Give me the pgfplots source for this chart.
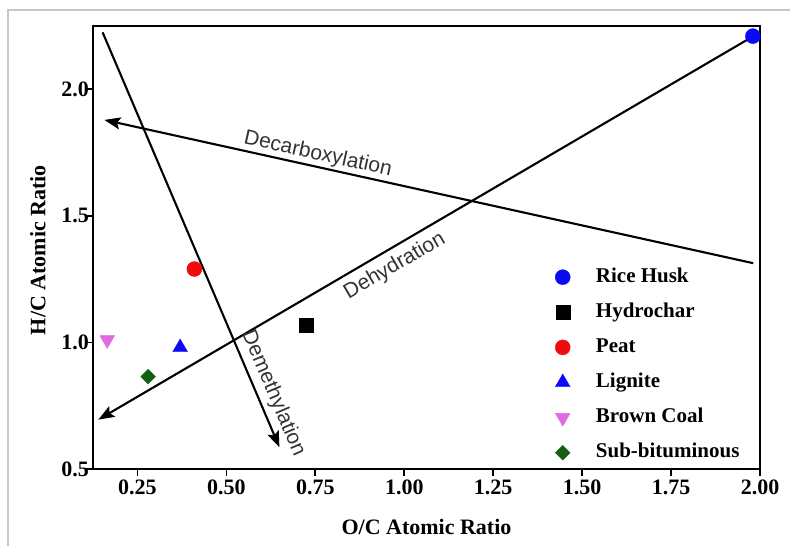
\documentclass[border=0pt]{standalone}
\usepackage{pgfplots}
\pgfplotsset{compat=1.18}
\usetikzlibrary{arrows.meta}
\usepackage{fontspec}
\setmainfont{Liberation Serif}
\newfontfamily\labelsans{Liberation Sans}
\definecolor{rhblue}{RGB}{10,10,245}
\definecolor{peatred}{RGB}{240,12,12}
\definecolor{bcpink}{RGB}{225,105,225}
\definecolor{sbgreen}{RGB}{20,95,20}
\begin{document}
\begin{tikzpicture}
\useasboundingbox (0,0) rectangle (790pt,546pt);
\draw[black!22, line width=1.2pt] (8pt,0pt) -- (8pt,536pt) -- (790pt,536pt);
\begin{axis}[
  at={(93pt,77pt)}, anchor=south west,
  scale only axis, width=667pt, height=443pt,
  xmin=0.125, xmax=2.0, ymin=0.5, ymax=2.25,
  clip=false,
  xtick={0.25,0.50,0.75,1.00,1.25,1.50,1.75,2.00},
  ytick={0.5,1.0,1.5,2.0},
  tick pos=left, tick align=outside,
  major tick length=7pt,
  every tick/.style={black, line width=1.8pt},
  axis line style={line width=1.9pt},
  /pgf/number format/assume math mode=true,
  ticklabel style={font=\bfseries\fontsize{22}{26}\selectfont},
  xticklabel style={/pgf/number format/.cd, fixed, fixed zerofill, precision=2},
  yticklabel style={inner sep=0pt, xshift=3pt, /pgf/number format/.cd, fixed, fixed zerofill, precision=1},
  xlabel={O/C Atomic Ratio},
  ylabel={H/C Atomic Ratio},
  label style={font=\bfseries\fontsize{22}{26}\selectfont},
  xlabel style={at={(axis description cs:0.5,-0.131)}, anchor=center},
  ylabel style={at={(axis description cs:-0.0825,0.494)}, anchor=center},
  legend image code/.code={\draw[mark repeat=2,mark phase=2,#1] plot coordinates {(0pt,0pt) (10pt,0pt) (20pt,0pt)}; \path (43pt,0pt);},
  legend cell align=left,
  legend style={draw=none, fill=none, at={(0.6927,0.4560)}, anchor=north west,
    inner sep=0pt, row sep=15.1pt, font=\bfseries\fontsize{21}{25}\selectfont,
    nodes={inner sep=0pt, text height=15pt, text depth=5pt}},
]
\addplot[only marks, mark=*, mark size=7.5pt, color=rhblue] coordinates {(1.98,2.21)};
\addlegendentry{Rice Husk}
\addplot[only marks, mark=square*, mark size=7pt, color=black] coordinates {(0.725,1.07)};
\addlegendentry{Hydrochar}
\addplot[only marks, mark=*, mark size=7.5pt, color=peatred] coordinates {(0.41,1.29)};
\addlegendentry{Peat}
\addplot[only marks, mark=triangle*, mark size=8.5pt, color=rhblue] coordinates {(0.37,0.98)};
\addlegendentry{Lignite}
\addplot[only marks, mark=triangle*, mark size=8.5pt, mark options={rotate=180}, color=bcpink] coordinates {(0.165,1.01)};
\addlegendentry{Brown Coal}
\addplot[only marks, mark=square*, mark size=5.2pt, mark options={rotate=45}, color=sbgreen] coordinates {(0.28,0.865)};
\addlegendentry{Sub-bituminous}
% process lines
\addplot[forget plot, black, line width=2.1pt, arrows={Stealth[length=16pt,width=12pt,inset=3pt]-}]
  coordinates {(0.157,1.879) (1.981,1.313)}
  node[pos=0.325, sloped, above, inner sep=1.5pt, text=black!80, font=\labelsans\fontsize{21}{25}\selectfont] {Decarboxylation};
\addplot[forget plot, black, line width=2.1pt, arrows={Stealth[length=16pt,width=12pt,inset=3pt]-}]
  coordinates {(0.14,0.695) (1.978,2.207)}
  node[pos=0.44, sloped, below, inner sep=6.5pt, text=black!80, font=\labelsans\fontsize{21}{25}\selectfont] {Dehydration};
\addplot[forget plot, black, line width=2.1pt, arrows={-Stealth[length=16pt,width=12pt,inset=3pt]}]
  coordinates {(0.152,2.225) (0.649,0.586)}
  node[pos=0.885, sloped, above, inner sep=4.5pt, text=black!80, font=\labelsans\fontsize{21}{25}\selectfont] {Demethylation};
\end{axis}
\end{tikzpicture}
\end{document}
